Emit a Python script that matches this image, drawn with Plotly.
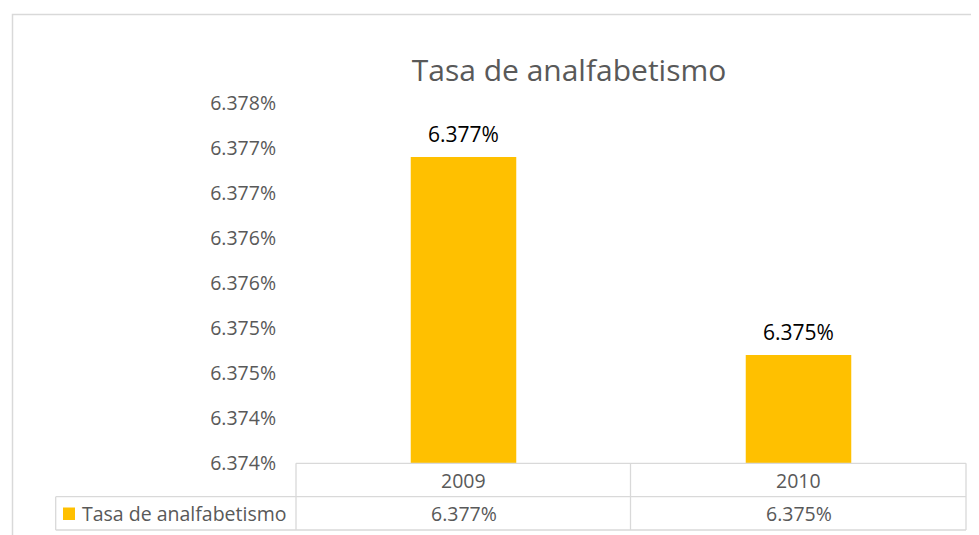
import plotly.graph_objects as go

# ---- data ----
categories = ["2009", "2010"]
series_name = "Tasa de analfabetismo"
values = [6.3774, 6.3752]          # percent
tick_values = [6.3740, 6.3745, 6.3750, 6.3755, 6.3760, 6.3765, 6.3770, 6.3775, 6.3780]
tick_labels = ["6.374%", "6.374%", "6.375%", "6.375%", "6.376%",
               "6.376%", "6.377%", "6.377%", "6.378%"]

# ---- style ----
OFF = 8                               # page body margin
W, H = 979 - OFF, 535 - OFF
L, R, T, B = 296 - OFF, 966 - OFF, 103 - OFF, 463 - OFF   # plot area in figure pixels
BAR_COLOR = "#FFC000"
GRAY_TEXT = "#595959"
LINE = "#D9D9D9"
FONT = "Open Sans"

def px_x(p):
    p = p - OFF
    return (p - L) / (R - L)

def px_y(p):
    p = p - OFF
    return (B - p) / (B - T)

idx = list(range(len(categories)))

fig = go.Figure()
fig.add_trace(go.Bar(
    x=idx, y=values, name=series_name,
    marker=dict(color=BAR_COLOR, line=dict(width=0)),
    width=0.315, showlegend=False, hoverinfo="skip",
))

annotations = []
# data labels above bars
for i, v in zip(idx, values):
    annotations.append(dict(
        x=i, y=v, xref="x", yref="y", text=f"{v:.3f}%", showarrow=False,
        yanchor="middle", yshift=23.5,
        font=dict(family=FONT, size=21, color="#000000"),
    ))
# data table texts
for i, c, v in zip(idx, categories, values):
    annotations.append(dict(
        x=i, y=px_y(480), xref="x", yref="paper", text=c, showarrow=False,
        yanchor="middle", font=dict(family=FONT, size=19.5, color=GRAY_TEXT),
    ))
    annotations.append(dict(
        x=i, y=px_y(513.5), xref="x", yref="paper", text=f"{v:.3f}%", showarrow=False,
        yanchor="middle", font=dict(family=FONT, size=19.5, color=GRAY_TEXT),
    ))
# legend key text
annotations.append(dict(
    x=px_x(80), y=px_y(513.5), xref="paper", yref="paper", text=series_name,
    showarrow=False, xanchor="left", yanchor="middle",
    font=dict(family=FONT, size=19.5, color=GRAY_TEXT),
))

shapes = []
def hline(y, x0, x1):
    shapes.append(dict(type="line", xref="paper", yref="paper",
                       x0=px_x(x0), x1=px_x(x1), y0=px_y(y), y1=px_y(y),
                       line=dict(color=LINE, width=1.3)))

def vline(x, y0, y1):
    shapes.append(dict(type="line", xref="paper", yref="paper",
                       x0=px_x(x), x1=px_x(x), y0=px_y(y0), y1=px_y(y1),
                       line=dict(color=LINE, width=1.3)))

hline(463.3, 296, 966)
hline(496.7, 55.7, 966)
hline(530, 55.7, 966)
vline(55.7, 496.7, 530)
vline(296, 463.3, 530)
vline(630.5, 463.3, 530)
vline(966, 463.3, 530)
# legend key square
shapes.append(dict(type="rect", xref="paper", yref="paper",
                   x0=px_x(63), x1=px_x(75), y0=px_y(520), y1=px_y(507.5),
                   fillcolor=BAR_COLOR, line=dict(width=0)))
# outer chart border
shapes.append(dict(type="rect", xref="paper", yref="paper",
                   x0=px_x(12.5), x1=px_x(1000), y0=px_y(560), y1=px_y(14.5),
                   fillcolor="rgba(0,0,0,0)", line=dict(color=LINE, width=1.5)))

fig.update_layout(
    width=W, height=H,
    margin=dict(l=L, r=W - R, t=T, b=H - B, pad=0),
    paper_bgcolor="white", plot_bgcolor="white",
    title=dict(text="Tasa de analfabetismo", x=(569 - OFF) / W, xanchor="center",
               y=1 - (70 - OFF) / H, yanchor="middle",
               font=dict(family=FONT, size=30, color=GRAY_TEXT)),
    xaxis=dict(range=[-0.5, 1.5], showticklabels=False,
               showgrid=False, zeroline=False, showline=False, ticks=""),
    yaxis=dict(range=[6.374, 6.378], tickvals=tick_values, ticktext=tick_labels,
               showgrid=False, zeroline=False, showline=False, ticks="",
               ticklabelstandoff=19,
               tickfont=dict(family=FONT, size=19.5, color=GRAY_TEXT)),
    annotations=annotations, shapes=shapes,
    showlegend=False,
)

fig.write_html("out.html")
